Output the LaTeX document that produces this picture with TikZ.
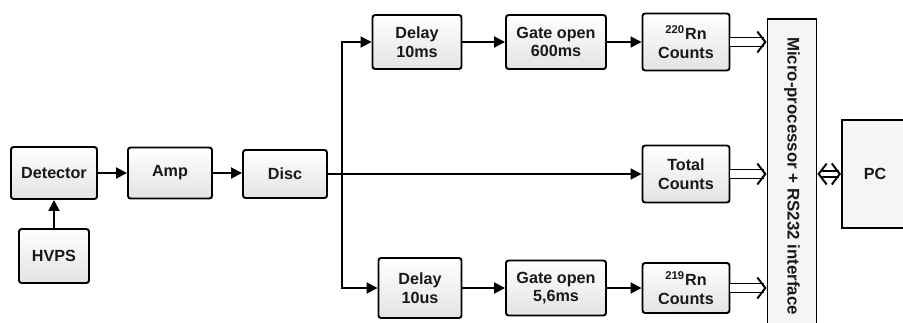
\documentclass[tikz,border=0pt]{standalone}
\usepackage{fontspec}
\setmainfont{Liberation Sans}
\usetikzlibrary{arrows.meta}

\begin{document}
\begin{tikzpicture}[x=0.02cm, y=-0.02cm, line width=1.1pt,
    every node/.style={font=\fontsize{9.2}{10.7}\selectfont\bfseries, align=center, text=black!90},
    blk/.style 2 args={draw, rounded corners=1.5pt, top color=white, bottom color=gray!22,
        inner sep=0pt, minimum width=#1*0.02cm, minimum height=#2*0.02cm},
    sig/.style={-{Triangle[length=2.2mm, width=2.2mm]}},
    bus/.style={double, double distance=#1, line width=1.1pt},
    barb/.tip={Straight Barb[length=1.6mm, width=4.2mm, line width=1.1pt]}]
    \useasboundingbox (0,0) rectangle (903,322);
    \clip (0,0) rectangle (903,322);
    % front end
    \node[blk={86}{52}] (det)  at (54,173)  {Detector};
    \node[blk={70}{54}] (hvps) at (54,256)  {HVPS};
    \node[blk={84}{51}] (amp)  at (170,173) {Amp};
    \node[blk={84}{48}] (disc) at (285,174) {Disc};
    % counting branches
    \node[blk={89}{54}]  (d1)    at (417,42)  {Delay\\10ms};
    \node[blk={100}{54}] (g1)    at (556,42)  {Gate open\\600ms};
    \node[blk={87}{57}]  (rn220) at (686,42)  {\textsuperscript{220}Rn\\Counts};
    \node[blk={87}{57}]  (tot)   at (686,174) {Total\\Counts};
    \node[blk={83}{60}]  (d2)    at (420,288) {Delay\\10us};
    \node[blk={100}{55}] (g2)    at (556,288) {Gate open\\5,6ms};
    \node[blk={87}{50}]  (rn219) at (686,288) {\textsuperscript{219}Rn\\Counts};
    % interface and PC (cut by the frame)
    \node[draw, fill=gray!8, minimum width=0.98cm, minimum height=7cm, inner sep=0pt,
        anchor=north] (mp) at (792,18) {};
    \node[rotate=-90, font=\fontsize{9.6}{11}\selectfont\bfseries] at (792,176)
        {Micro-processor + RS232 interface};
    \node[draw, fill=gray!8, minimum width=2cm, minimum height=2.16cm, inner sep=0pt,
        anchor=west] (pc) at (841,174) {};
    \node at (875,174) {PC};
    % connections
    \draw[sig] (hvps) -- (det);
    \foreach \a/\b in {det/amp, amp/disc, d1/g1, g1/rn220, d2/g2, g2/rn219}
        \draw[sig] (\a.east) -- (\a.east -| \b.west);
    \coordinate (split) at (342,174);
    \draw[sig] (disc.east) -- (tot.west);
    \draw[sig] (split) |- (d1.west);
    \draw[sig] (split) |- (d2.west);
    \foreach \c in {rn220, tot, rn219}
        \draw[bus=4pt, -barb] (\c.east) -- (\c.east -| mp.west);
    \draw[bus=2pt, barb-barb] (mp.east |- pc.west) -- (pc.west);
\end{tikzpicture}
\end{document}
